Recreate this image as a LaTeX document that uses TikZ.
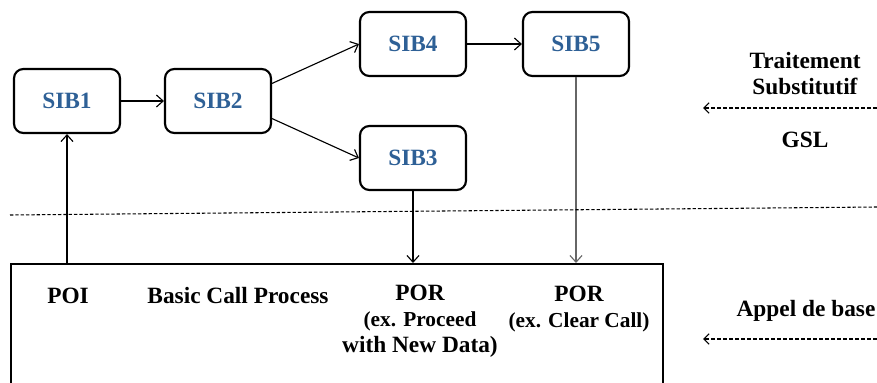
\documentclass[tikz,border=0pt]{standalone}
\usepackage{fontspec}
\setmainfont{Liberation Serif}
\usetikzlibrary{arrows.meta}
\definecolor{sibblue}{RGB}{46,96,150}
\newcommand{\exfont}{\fontsize{16}{19}\selectfont}

\begin{document}
\begin{tikzpicture}[x=0.75pt,y=-0.75pt,
    sib/.style={draw,line width=1.6pt,rounded corners=7pt,minimum width=79.5pt,minimum height=48pt,
      text=sibblue,font=\fontsize{17.5}{21}\selectfont\bfseries},
    lbl/.style={font=\fontsize{17.5}{19.5}\selectfont\bfseries,align=center},
    flow/.style={-{Straight Barb[length=5pt,width=9pt]},line width=0.85pt},
    level/.style={-{Straight Barb[length=4pt,width=8pt]},line width=0.85pt,dash pattern=on 3pt off 1.5pt},
    sep/.style={line width=0.8pt,dash pattern=on 2.5pt off 1.5pt}]
    \clip (0,0) rectangle (877,382);
    \node[sib] (sib1) at (67,101) {SIB1};
    \node[sib] (sib2) at (218,101) {SIB2};
    \node[sib] (sib4) at (413,44) {SIB4};
    \node[sib] (sib3) at (413,158) {SIB3};
    \node[sib] (sib5) at (576,44) {SIB5};
    \node[draw,line width=1.6pt,minimum width=489pt,minimum height=150pt,anchor=north west] (base) at (10,263) {};
    \node[lbl] (poi) at (68,296) {POI};
    \node[lbl] (bcp) at (238,296) {Basic Call Process};
    \node[lbl] (por1) at (420,321) {POR\\\exfont(ex. Proceed\\with New Data)};
    \node[lbl] (por2) at (579,309) {POR\\\exfont(ex. Clear Call)};
    \node[lbl] (ts) at (805,74) {Traitement\\Substitutif};
    \node[lbl] (gsl) at (805,140) {GSL};
    \node[lbl] (adb) at (806,311) {Appel de base};
    \coordinate (sepL) at (10,215);
    \coordinate (sepR) at (877,207);
    \coordinate (tsR) at (877,108);
    \coordinate (tsL) at (703,108);
    \coordinate (adbR) at (877,339);
    \coordinate (adbL) at (703,339);
    \draw[flow] (sib1) -- (sib2);
    \draw[flow] (sib2.18) -- (sib4.west);
    \draw[flow] (sib2.-18) -- (sib3.west);
    \draw[flow] (sib4) -- (sib5);
    \draw[flow] (base.north -| sib1) -- (sib1);
    \draw[flow] (sib3.south) -- (sib3.south |- base.north);
    \draw[flow,draw=black!60] (sib5.south) -- (sib5.south |- base.north);
    \draw[sep] (sepL) -- (sepR);
    \draw[level] (tsR) -- (tsL);
    \draw[level] (adbR) -- (adbL);
\end{tikzpicture}
\end{document}
